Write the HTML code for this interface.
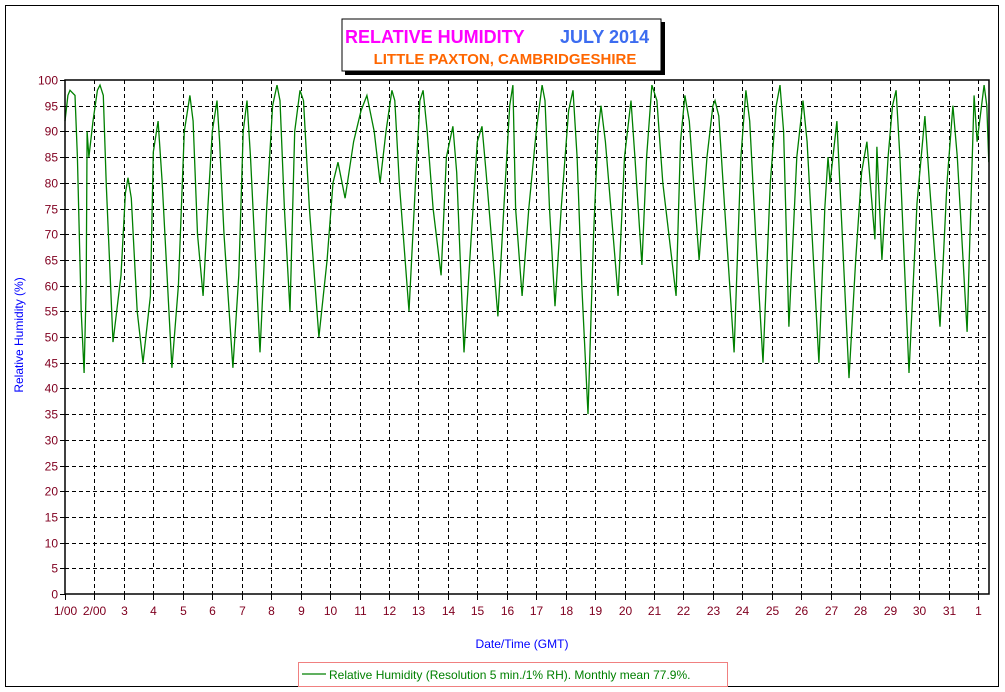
<!DOCTYPE html>
<html><head><meta charset="utf-8"><style>
body{margin:0;background:#fff;}
svg{display:block;font-family:"Liberation Sans",sans-serif;}
</style></head><body>
<svg id="chart" width="1005" height="692" viewBox="0 0 1005 692">
<rect x="5.5" y="5.5" width="993" height="681" fill="#fff" stroke="#000" stroke-width="1"/>
<g>
<rect x="345" y="22" width="320" height="53" fill="#000"/>
<rect x="342" y="19" width="319" height="52" fill="#fff" stroke="#000" stroke-width="1"/>
<text x="345" y="43" font-size="18" font-weight="bold" fill="#ff00ff">RELATIVE HUMIDITY</text>
<text x="560" y="43" font-size="18" font-weight="bold" fill="#3c6cf0">JULY 2014</text>
<text x="505" y="64" font-size="15" font-weight="bold" fill="#ff6600" text-anchor="middle">LITTLE PAXTON, CAMBRIDGESHIRE</text>
</g>
<g id="grid"></g>
<g id="yticks"></g>
<g id="xticks"></g>
<path id="series" fill="none" stroke="#008000" stroke-width="1.3"/>
<rect x="65" y="80" width="924" height="514" fill="none" stroke="#000" stroke-width="1.5"/>
<text x="522" y="648" font-size="12" fill="#0000ff" text-anchor="middle">Date/Time (GMT)</text>
<text transform="translate(23,335) rotate(-90)" font-size="12" fill="#0000ff" text-anchor="middle">Relative Humidity (%)</text>
<g>
<rect x="298.5" y="662.5" width="429" height="24" fill="#fff" stroke="#f08080" stroke-width="1"/>
<line x1="302" y1="674" x2="326" y2="674" stroke="#008000" stroke-width="1.3"/>
<text x="329" y="679" font-size="12" fill="#008000">Relative Humidity (Resolution 5 min./1% RH). Monthly mean 77.9%.</text>
</g>
</svg>
<script>
const xLabels=["1/00","2/00","3","4","5","6","7","8","9","10","11","12","13","14","15","16","17","18","19","20","21","22","23","24","25","26","27","28","29","30","31","1"];
const yTicks=[0,5,10,15,20,25,30,35,40,45,50,55,60,65,70,75,80,85,90,95,100];
const times=[0,0.1,0.17,0.34,0.42,0.55,0.65,0.72,0.75,0.81,0.95,1.1,1.19,1.3,1.4,1.63,1.9,2.05,2.14,2.25,2.45,2.65,2.9,3.0,3.16,3.3,3.63,3.85,4.05,4.24,4.35,4.5,4.69,4.85,5.0,5.16,5.25,5.4,5.70,5.9,6.05,6.18,6.3,6.62,6.85,7.05,7.20,7.3,7.45,7.64,7.8,7.98,8.1,8.3,8.62,8.9,9.1,9.27,9.51,9.8,10.05,10.25,10.5,10.70,10.9,11.10,11.2,11.35,11.68,11.9,12.05,12.16,12.3,12.5,12.77,12.95,13.17,13.3,13.55,13.8,14.0,14.16,14.3,14.70,14.9,15.1,15.21,15.3,15.52,15.75,16.0,16.20,16.3,16.45,16.64,16.85,17.1,17.25,17.39,17.55,17.76,17.95,18.1,18.20,18.35,18.78,19.0,19.22,19.35,19.59,19.75,19.93,20.1,20.3,20.75,20.9,21.05,21.2,21.53,21.8,22.0,22.07,22.2,22.4,22.72,22.95,23.12,23.25,23.45,23.70,23.95,24.15,24.28,24.4,24.58,24.85,25.06,25.2,25.60,25.8,25.91,25.98,26.21,26.35,26.62,26.85,27.05,27.23,27.50,27.57,27.74,27.95,28.1,28.22,28.35,28.66,28.93,29.20,29.35,29.71,29.95,30.15,30.3,30.63,30.87,30.97,31.21,31.3,31.37];
const humidity=[92,97,98,97,85,55,43,60,90,85,92,98,99,97,80,49,62,78,81,77,55,45,58,86,92,80,44,60,90,97,92,70,58,75,90,96,88,70,44,62,90,96,85,47,75,95,99,96,75,55,90,98,96,75,50,65,80,84,77,88,94,97,90,80,90,98,96,80,55,80,96,98,90,75,62,85,91,82,47,70,88,91,82,54,75,95,99,75,58,75,90,99,96,75,56,75,94,98,85,60,35,70,90,95,88,58,85,96,85,64,85,99,96,80,58,88,97,92,65,85,95,96,93,75,47,85,98,92,70,45,80,95,99,90,52,85,96,88,45,75,85,80,92,75,42,65,82,88,69,87,65,85,95,98,85,43,76,93,80,52,80,95,85,51,97,88,99,95,84];
const X0=65,X1=989,Y0=594,Y1=80,DAYPX=29.45;
const xs=d=>X0+d*DAYPX;
const ys=v=>Y0-(v/100)*(Y0-Y1);
const NS="http://www.w3.org/2000/svg";
const grid=document.getElementById('grid'),yt=document.getElementById('yticks'),xt=document.getElementById('xticks');
function mk(tag,attrs,parent){const e=document.createElementNS(NS,tag);for(const k in attrs)e.setAttribute(k,attrs[k]);parent.appendChild(e);return e;}
yTicks.forEach(v=>{
  const y=Math.round(ys(v))+0.5;
  if(v>0&&v<100){const l=mk('line',{x1:X0,x2:X1,y1:y,y2:y,stroke:'#000','stroke-dasharray':'4,3','stroke-width':1},grid);
  
  }
  mk('line',{x1:X0-5,x2:X0,y1:y,y2:y,stroke:'#000'},yt);
  const t=mk('text',{x:X0-7,y:y+4,'font-size':12,fill:'#800020','text-anchor':'end'},yt);
  
  
  t.textContent=v;
});
xLabels.forEach((s,i)=>{
  const x=Math.round(xs(i))+0.5;
  if(i>0){const l=mk('line',{x1:x,x2:x,y1:Y1,y2:Y0,stroke:'#000','stroke-dasharray':'4,3','stroke-width':1},grid);
  
  }
  mk('line',{x1:x,x2:x,y1:Y0,y2:Y0+6,stroke:'#000'},xt);
  const t=mk('text',{x:x,y:Y0+21,'font-size':12,fill:'#800020','text-anchor':'middle'},xt);
  
  
  t.textContent=s;
});
let d='';
times.forEach((t,i)=>{d+=(i?'L':'M')+xs(t).toFixed(1)+' '+ys(humidity[i]).toFixed(1);});
document.getElementById('series').setAttribute('d',d);
</script>
</body></html>
